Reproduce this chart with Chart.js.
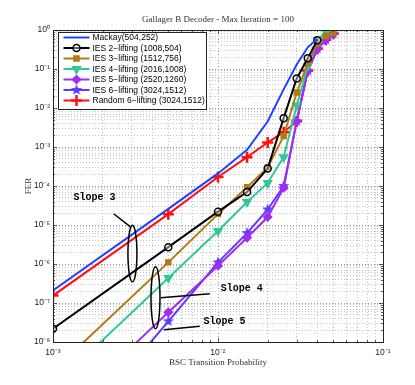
<!DOCTYPE html>
<html>
<head>
<meta charset="utf-8">
<script src="https://cdn.jsdelivr.net/npm/chart.js@4.4.1/dist/chart.umd.min.js"></script>
<style>
  html, body { margin: 0; padding: 0; background: #fff; }
</style>
</head>
<body>
<canvas id="fer" width="415" height="385"></canvas>
<script>
// BSC transition probability (x) and FER per code
const pe = [0.001, 0.005, 0.01, 0.015, 0.02, 0.025, 0.03, 0.035, 0.04, 0.045, 0.05]

const mackay = [2.1e-7, 2.6e-5, 2.1e-4, 8.5e-4, 4.5e-3, 0.03, 0.13, 0.36, 0.6, null, null]
const ies2 = [2.2e-8, 2.7e-6, 2.2e-5, 7.0e-5, 2.8e-4, 5.5e-3, 0.057, 0.19, 0.55, null, null]
const ies3 = [1.8e-9, 1.1e-6, 1.9e-5, 9.3e-5, 3.0e-4, 1.9e-3, 0.025, 0.14, 0.45, 0.7, 0.85]
const ies4 = [7e-10, 4.4e-7, 7e-6, 3.9e-5, 1.2e-4, 5.5e-4, 0.0116, 0.12, 0.54, 0.9, 0.95]
const ies5 = [9e-11, 5.8e-8, 9e-7, 4.7e-6, 1.6e-5, 9e-5, 4.6e-3, 0.09, 0.33, 0.56, 0.8]
const ies6 = [1.1e-11, 3.4e-8, 1.1e-6, 6.2e-6, 2.5e-5, 1.0e-4, 4.6e-3, 0.09, 0.33, 0.56, 0.8]
const random6 = [1.55e-7, 1.9e-5, 1.7e-4, 5.5e-4, 1.3e-3, 2.4e-3, 4.6e-3, 0.09, 0.33, 0.56, 0.8]

const labels = [
    'Mackay(504,252)',
    'IES 2\u2212lifting (1008,504)',
    'IES 3\u2212lifting (1512,756)',
    'IES 4\u2212lifting (2016,1008)',
    'IES 5\u2212lifting (2520,1260)',
    'IES 6\u2212lifting (3024,1512)',
    'Random 6\u2212lifting (3024,1512)'
]

// slope annotations, in data units
const slopeText = ['Slope 3', 'Slope 4', 'Slope 5']
const slopeTextAt = [[0.00133, 5.2e-5], [0.01038, 2.31e-7], [0.00818, 3.36e-8]]
const slopeLines = [
    [[0.00233, 1.94e-5], [0.00296, 8.8e-6]],
    [[0.0045, 1.36e-7], [0.00891, 1.72e-7]],
    [[0.00469, 2.06e-8], [0.00775, 2.54e-8]]
]
const ellipses = [[0.00303, 9.8e-6, 3.5e-7], [0.00418, 8.5e-7, 2.2e-8]]

const title = 'Gallager B Decoder - Max Iteration = 100'

const toXY = ys => pe.map((x, i) => ({x: x, y: ys[i]})).filter(p => p.y !== null)

const sup = '⁰¹²³⁴⁵⁶⁷⁸⁹'
const toSup = n => String(n).split('').map(c => c === '-' ? '⁻' : sup[+c]).join('')
const isDecade = v => Math.abs(Math.log10(v) - Math.round(Math.log10(v))) < 1e-6

function logTicks(lo, hi) {
    const out = []
    for (let e = lo; e < hi; e++) {
        for (let k = 1; k < 10; k++) out.push({value: k * Math.pow(10, e)})
    }
    out.push({value: Math.pow(10, hi)})
    return out
}

function starImage(color, r) {
    const c = document.createElement('canvas')
    const s = Math.ceil(r * 2 + 2)
    c.width = s
    c.height = s
    const g = c.getContext('2d')
    g.beginPath()
    for (let i = 0; i < 10; i++) {
        const rad = i % 2 ? r * 0.42 : r
        const a = -Math.PI / 2 + i * Math.PI / 5
        g.lineTo(s / 2 + rad * Math.cos(a), s / 2 + rad * Math.sin(a))
    }
    g.closePath()
    g.fillStyle = color
    g.fill()
    return c
}

const colors = ['#2440ff', '#000000', '#b07a12', '#30c896', '#a22cf0', '#5a3cff', '#ff1010']

function series(i, ys, style) {
    return Object.assign({
        label: labels[i],
        data: toXY(ys),
        borderColor: colors[i],
        backgroundColor: colors[i],
        borderWidth: 2,
        pointRadius: 3.5,
        pointBorderWidth: 1.5,
        tension: 0,
        fill: false
    }, style)
}

const datasets = [
    series(0, mackay, {pointRadius: 0}),
    series(1, ies2, {pointStyle: 'circle', pointBackgroundColor: 'rgba(255,255,255,0.4)', pointRadius: 3.5}),
    series(2, ies3, {pointStyle: 'rect', pointRadius: 3.5}),
    series(3, ies4, {pointStyle: 'triangle', pointRotation: 180, pointRadius: 4.5}),
    series(4, ies5, {pointStyle: 'rectRot', pointRadius: 4}),
    series(5, ies6, {pointStyle: starImage(colors[5], 6)}),
    series(6, random6, {pointStyle: 'cross', pointRadius: 5.5, pointBorderWidth: 2.5})
]

const px = (chart, x, y) => [chart.scales.x.getPixelForValue(x), chart.scales.y.getPixelForValue(y)]

const decorations = {
    id: 'decorations',
    afterDatasetsDraw(chart) {
        const {ctx, chartArea: a, scales} = chart
        ctx.save()

        // inward ticks on all four sides
        ctx.strokeStyle = '#333'
        ctx.lineWidth = 0.8
        ctx.beginPath()
        scales.x.ticks.forEach(t => {
            const xp = Math.round(scales.x.getPixelForValue(t.value)) + 0.5
            const len = isDecade(t.value) ? 4 : 2
            ctx.moveTo(xp, a.bottom); ctx.lineTo(xp, a.bottom - len)
            ctx.moveTo(xp, a.top); ctx.lineTo(xp, a.top + len)
        })
        scales.y.ticks.forEach(t => {
            const yp = Math.round(scales.y.getPixelForValue(t.value)) + 0.5
            const len = isDecade(t.value) ? 4 : 2
            ctx.moveTo(a.left, yp); ctx.lineTo(a.left + len, yp)
            ctx.moveTo(a.right, yp); ctx.lineTo(a.right - len, yp)
        })
        ctx.stroke()
        ctx.lineWidth = 1
        ctx.strokeStyle = '#222'
        ctx.strokeRect(Math.round(a.left) + 0.5, Math.round(a.top) + 0.5, Math.round(a.width), Math.round(a.height))

        // slope annotations
        ctx.strokeStyle = '#000'
        ctx.lineWidth = 1.5
        ellipses.forEach(([ex, top, bottom]) => {
            const [cx, y1] = px(chart, ex, top)
            const y2 = scales.y.getPixelForValue(bottom)
            ctx.beginPath()
            ctx.ellipse(cx, (y1 + y2) / 2, 4.5, (y2 - y1) / 2, 0, 0, Math.PI * 2)
            ctx.stroke()
        })
        slopeLines.forEach(([p, q]) => {
            ctx.beginPath()
            ctx.moveTo(...px(chart, p[0], p[1]))
            ctx.lineTo(...px(chart, q[0], q[1]))
            ctx.stroke()
        })
        ctx.fillStyle = '#000'
        ctx.font = 'bold 10px "Liberation Mono", "DejaVu Sans Mono", monospace'
        ctx.textBaseline = 'middle'
        ctx.textAlign = 'left'
        slopeText.forEach((t, i) => {
            const [tx, ty] = px(chart, slopeTextAt[i][0], slopeTextAt[i][1])
            ctx.fillText(t, tx, ty)
        })

        // title
        ctx.fillStyle = '#333'
        ctx.font = '9px "Liberation Serif", "DejaVu Serif", serif'
        ctx.textAlign = 'center'
        ctx.fillText(title, (a.left + a.right) / 2, 20)

        // legend box inside the axes
        const lx = 58.5, ly = 32.5, lw = 148, lh = 77, row = 10.5
        ctx.fillStyle = '#fff'
        ctx.fillRect(lx, ly, lw, lh)
        ctx.strokeStyle = '#222'
        ctx.lineWidth = 1
        ctx.strokeRect(lx, ly, lw, lh)
        ctx.font = '8.5px "Liberation Sans", Arial, sans-serif'
        ctx.textAlign = 'left'
        chart.data.datasets.forEach((ds, i) => {
            const yy = ly + 5 + i * row
            ctx.strokeStyle = ds.borderColor
            ctx.lineWidth = 2
            ctx.beginPath()
            ctx.moveTo(lx + 5, yy)
            ctx.lineTo(lx + 31, yy)
            ctx.stroke()
            if (ds.pointRadius > 0 && Chart.helpers && Chart.helpers.drawPoint) {
                ctx.fillStyle = ds.pointBackgroundColor || ds.backgroundColor
                ctx.strokeStyle = ds.borderColor
                ctx.lineWidth = ds.pointBorderWidth
                Chart.helpers.drawPoint(ctx, {
                    pointStyle: ds.pointStyle,
                    radius: ds.pointRadius,
                    rotation: ds.pointRotation || 0,
                    borderWidth: ds.pointBorderWidth
                }, lx + 18, yy)
            }
            ctx.fillStyle = '#000'
            ctx.fillText(ds.label, lx + 34, yy + 0.5)
        })
        ctx.restore()
    }
}

const gridColor = ctx => ctx.tick && isDecade(ctx.tick.value) ? '#9a9a9a' : '#c4c4c4'

new Chart(document.getElementById('fer'), {
    type: 'line',
    data: { datasets: datasets },
    options: {
        responsive: false,
        devicePixelRatio: 1,
        animation: false,
        layout: { padding: { top: 30, right: 32, left: 0, bottom: 0 } },
        plugins: {
            legend: { display: false },
            tooltip: { enabled: false }
        },
        scales: {
            x: {
                type: 'logarithmic',
                min: 0.001,
                max: 0.1,
                afterBuildTicks: scale => { scale.ticks = logTicks(-3, -1) },
                afterFit: scale => { scale.height = 43 },
                grid: { color: gridColor, lineWidth: 1, drawTicks: false },
                border: { display: false, dash: [1, 2] },
                ticks: {
                    autoSkip: false,
                    maxRotation: 0,
                    padding: 6,
                    color: '#222',
                    font: { family: '"Liberation Sans", Arial, sans-serif', size: 8.5 },
                    callback: v => isDecade(v) ? '10' + toSup(Math.round(Math.log10(v))) : ''
                },
                title: {
                    display: true,
                    text: 'BSC Transition Probability',
                    color: '#333',
                    font: { family: '"Liberation Serif", "DejaVu Serif", serif', size: 9 },
                    padding: { top: 0, bottom: 17 }
                }
            },
            y: {
                type: 'logarithmic',
                min: 1e-8,
                max: 1,
                afterBuildTicks: scale => { scale.ticks = logTicks(-8, 0) },
                afterFit: scale => { scale.width = 53 },
                grid: { color: gridColor, lineWidth: 1, drawTicks: false },
                border: { display: false, dash: [1, 2] },
                ticks: {
                    autoSkip: false,
                    padding: 3,
                    color: '#222',
                    font: { family: '"Liberation Sans", Arial, sans-serif', size: 8.5 },
                    callback: v => isDecade(v) ? '10' + toSup(Math.round(Math.log10(v))) : ''
                },
                title: {
                    display: true,
                    text: 'FER',
                    color: '#333',
                    font: { family: '"Liberation Serif", "DejaVu Serif", serif', size: 9 },
                    padding: { top: 23, bottom: 0 }
                }
            }
        }
    },
    plugins: [decorations]
})
</script>
</body>
</html>
